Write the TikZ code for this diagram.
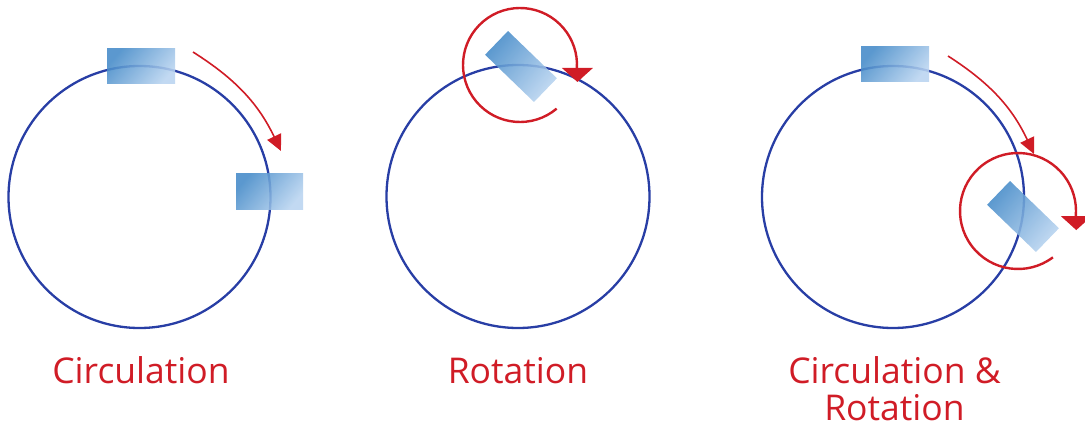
\documentclass[tikz,border=0pt]{standalone}
\usepackage{fontspec}
\setmainfont{Open Sans}
\usetikzlibrary{arrows.meta}
\definecolor{ringblue}{RGB}{40,62,165}
\definecolor{arrred}{RGB}{208,28,38}
\definecolor{blkdark}{RGB}{68,138,200}
\definecolor{blklight}{RGB}{185,212,240}
\tikzset{
  ring/.style={circle, draw=ringblue, line width=2.3pt, inner sep=0pt},
  blk/.style={rectangle, inner sep=0pt, fill opacity=0.88,
    top color=blkdark, bottom color=blklight, shading angle=50},
  movearrow/.style={draw=arrred, line width=1.6pt, -{Triangle[length=16pt,width=15pt]}},
  spinline/.style={draw=arrred, line width=2.4pt},
  spinhead/.style={fill=arrred},
  lbl/.style={text=arrred, font=\fontsize{35.5}{40}\selectfont, inner sep=0pt}
}
\begin{document}
\begin{tikzpicture}[x=1pt,y=-1pt]
\useasboundingbox (0,0) rectangle (1085,428);
% circles
\node[ring, minimum size=262pt] (c1) at (139.5,197) {};
\node[ring, minimum size=263pt] (c2) at (518,196.5) {};
\node[ring, minimum size=262pt] (c3) at (893,197) {};
% blocks
\node[blk, minimum width=68pt, minimum height=35pt] (b1) at (141,66.5) {};
\node[blk, minimum width=67pt, minimum height=36pt] (b2) at (269.5,191) {};
\node[blk, minimum width=68pt, minimum height=33pt, rotate=-44] (b3) at (521,66.5) {};
\node[blk, minimum width=68pt, minimum height=35pt] (b4) at (895,64.5) {};
\node[blk, minimum width=68pt, minimum height=33pt, rotate=-44] (b5) at (1023,216.5) {};
% circulation arrows
\coordinate (a1s) at (193,52);
\coordinate (a1e) at (281,151);
\draw[movearrow] (a1s) to[bend left=16] (a1e);
\coordinate (a3s) at (948,56);
\coordinate (a3e) at (1034,154);
\draw[movearrow] (a3s) to[bend left=16] (a3e);
% rotation arrows
\coordinate (r2c) at (520,65);
\draw[spinline] (r2c) ++(50:57) arc[start angle=50, end angle=363, radius=57] coordinate (r2e);
\fill[spinhead] (r2e) ++(-15,0) -- ++(31,0) -- ++(-15.5,14) -- cycle;
\coordinate (r3c) at (1018,211);
\draw[spinline] (r3c) ++(53:58) arc[start angle=53, end angle=365, radius=58] coordinate (r3e);
\fill[spinhead] (r3e) ++(-15,0) -- ++(31,0) -- ++(-15.5,14) -- cycle;
% labels
\node[lbl, anchor=base] (l1) at (141,383) {Circulation};
\node[lbl, anchor=base] (l2) at (518,383) {Rotation};
\node[lbl, anchor=base] (l3) at (894.5,383) {Circulation \&};
\node[lbl, anchor=base] (l4) at (894.5,420) {Rotation};
\end{tikzpicture}
\end{document}
